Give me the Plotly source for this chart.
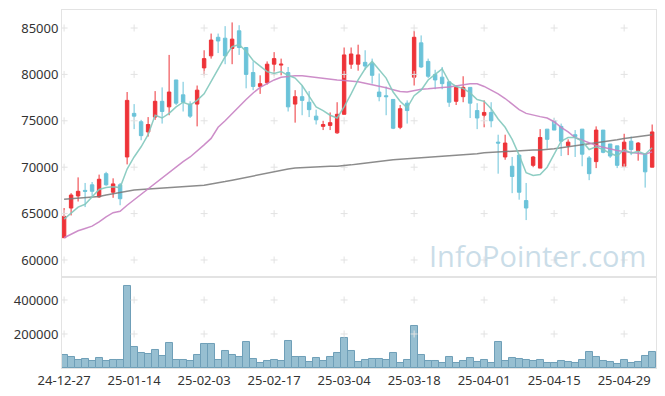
import plotly.graph_objects as go

dates = ["24-12-27", "24-12-30", "25-01-02", "25-01-03", "25-01-06", "25-01-07", "25-01-08", "25-01-09", "25-01-10", "25-01-13",
         "25-01-14", "25-01-15", "25-01-16", "25-01-17", "25-01-20", "25-01-21", "25-01-22", "25-01-23", "25-01-24", "25-01-31",
         "25-02-03", "25-02-04", "25-02-05", "25-02-06", "25-02-07", "25-02-10", "25-02-11", "25-02-12", "25-02-13", "25-02-14",
         "25-02-17", "25-02-18", "25-02-19", "25-02-20", "25-02-21", "25-02-24", "25-02-25", "25-02-26", "25-02-27", "25-02-28",
         "25-03-04", "25-03-05", "25-03-06", "25-03-07", "25-03-10", "25-03-11", "25-03-12", "25-03-13", "25-03-14", "25-03-17",
         "25-03-18", "25-03-19", "25-03-20", "25-03-21", "25-03-24", "25-03-25", "25-03-26", "25-03-27", "25-03-28", "25-03-31",
         "25-04-01", "25-04-02", "25-04-03", "25-04-04", "25-04-07", "25-04-08", "25-04-09", "25-04-10", "25-04-11", "25-04-14",
         "25-04-15", "25-04-16", "25-04-17", "25-04-18", "25-04-21", "25-04-22", "25-04-23", "25-04-24", "25-04-25", "25-04-28",
         "25-04-29", "25-04-30", "25-05-02", "25-05-07", "25-05-08"]

opens = [62400, 65600, 66900, 67500, 68100, 66800, 69300, 67300, 68100, 71100,
         75800, 74900, 73800, 75400, 77100, 76500, 79400, 77800, 76800, 76800,
         80700, 82000, 84000, 83900, 82800, 84700, 82900, 80200, 78700, 79100,
         81100, 81000, 80200, 76800, 77600, 77000, 75500, 74400, 74500, 73700,
         75700, 81100, 81100, 81300, 81200, 78100, 77700, 77300, 74300, 76900,
         79700, 83400, 81400, 80000, 79700, 79200, 77100, 77600, 78600, 76100,
         75600, 75900, 72700, 71100, 70100, 71300, 66400, 70200, 69900, 74100,
         75000, 74400, 72300, 73500, 74100, 71000, 70600, 74000, 72500, 72300,
         70100, 72800, 71800, 71400, 70000]

highs = [65600, 67200, 68900, 68300, 68400, 69200, 69500, 68800, 68300, 78100,
         76800, 75100, 75400, 78200, 78600, 82100, 79400, 79200, 77100, 78800,
         82600, 84400, 84400, 85200, 85600, 85300, 82900, 81400, 79900, 81400,
         82400, 81700, 80800, 78300, 78800, 78200, 76200, 75000, 75900, 77000,
         82900, 82900, 83200, 82600, 81700, 80100, 78700, 77300, 76700, 77200,
         84700, 84200, 81700, 80500, 80800, 79200, 78800, 79800, 78600, 76900,
         77200, 77000, 73500, 73500, 71100, 71300, 68300, 71200, 74100, 74100,
         75300, 74700, 73000, 74000, 74100, 71200, 74400, 74000, 72500, 72300,
         73600, 73300, 72700, 71400, 74600]

lows = [62400, 64800, 66300, 65700, 66900, 66700, 68000, 66700, 65900, 70300,
        74100, 72900, 73300, 75100, 74700, 75600, 76700, 76000, 75300, 74400,
        79900, 81700, 82300, 81100, 81100, 82100, 78500, 78300, 77900, 78900,
        79900, 79900, 76000, 74800, 75600, 75400, 74600, 74000, 74000, 73600,
        75700, 80600, 80400, 80500, 79000, 77100, 75600, 74100, 74100, 74700,
        78800, 80700, 79600, 78400, 78400, 76500, 76700, 77000, 75300, 74100,
        74300, 74300, 69300, 70800, 67200, 66500, 64300, 70000, 69900, 72000,
        74000, 71200, 71300, 71100, 70100, 68600, 69900, 71500, 71000, 69900,
        70100, 71300, 70700, 67800, 70000]

closes = [64700, 67000, 67400, 67400, 67400, 68700, 68100, 68200, 66600, 77200,
          75500, 73400, 74600, 77100, 76000, 78100, 76900, 77000, 75500, 78300,
          81700, 83700, 83600, 82000, 83800, 82900, 80000, 78700, 79000, 81100,
          81700, 81100, 76500, 77600, 77200, 76200, 75100, 74600, 74800, 75700,
          82100, 82200, 82100, 80900, 79900, 77600, 77600, 74200, 76300, 76100,
          84000, 80800, 79800, 79400, 79000, 77000, 78600, 78600, 76900, 75300,
          75900, 75000, 72600, 72600, 69000, 67300, 65600, 71100, 73200, 73000,
          74000, 72800, 72700, 73300, 71400, 69300, 74000, 71600, 71200, 70200,
          72700, 71900, 72600, 69500, 73800]

volumes = [74700, 66500, 45100, 54900, 39200, 56900, 39200, 45100, 45100, 480500,
           121600, 86300, 80400, 104000, 68600, 145100, 45100, 45100, 39200, 74700,
           139200, 139200, 45100, 98000, 74700, 62700, 151000, 51000, 27400, 39200,
           45100, 39200, 156900, 62700, 62700, 33300, 56900, 39200, 62700, 86300,
           174500, 98000, 33300, 45100, 51000, 51000, 45100, 86300, 27400, 45100,
           245100, 74700, 39200, 39200, 27400, 62700, 27400, 39200, 56900, 33300,
           45100, 27400, 151000, 39200, 56900, 51000, 45100, 39200, 45100, 27400,
           27400, 39200, 33300, 27400, 45100, 92200, 62700, 39200, 33300, 21600,
           45100, 27400, 33300, 68600, 92200]

ma5 = [64400, 65000, 65700, 66000, 66800, 67600, 67800, 67900, 67800, 69800,
       71100, 72200, 73500, 75600, 75300, 75800, 76500, 77000, 76700, 77200,
       77900, 79200, 80600, 81900, 83000, 83200, 82500, 81500, 80900, 80300,
       80100, 80300, 79900, 79600, 78800, 77700, 76500, 76100, 75600, 75300,
       76500, 77900, 79400, 80600, 81400, 80500, 79600, 78100, 77100, 76400,
       77700, 78300, 79400, 80000, 80600, 79200, 78700, 78500, 78000, 77300,
       77100, 76300, 75200, 74300, 73000, 71300, 69400, 69100, 69200, 70000,
       71400, 72800, 73200, 73200, 72800, 71900, 72200, 71900, 71500, 71200,
       71900, 71500, 71700, 71400, 72100]

ma20 = [62400, 62800, 63150, 63400, 63650, 64100, 64650, 65100, 65250, 65900,
        66500, 67000, 67650, 68300, 68900, 69500, 70000, 70600, 71100, 71700,
        72400, 73100, 74300, 75000, 75800, 76600, 77300, 78000, 78600, 79000,
        79400, 79700, 79800, 79850, 79850, 79750, 79650, 79550, 79450, 79400,
        79350, 79300, 79200, 79050, 78900, 78700, 78550, 78350, 78150, 78100,
        78250, 78400, 78450, 78550, 78600, 78650, 78750, 78900, 79000, 79000,
        78700, 78300, 77900, 77400, 76800, 76200, 75800, 75600, 75450, 75300,
        74900, 74300, 73800, 73200, 72900, 72600, 72350, 72150, 71950, 71800,
        71700, 71600, 71450, 71400, 71650]

ma120 = [66550, 66600, 66650, 66700, 66750, 66850, 67000, 67150, 67300, 67450,
         67550, 67600, 67650, 67700, 67750, 67800, 67800, 67850, 67900, 67950,
         68050, 68200, 68300, 68450, 68600, 68750, 68950, 69100, 69250, 69400,
         69550, 69700, 69800, 69900, 69950, 70000, 70050, 70050, 70100, 70100,
         70150, 70250, 70350, 70450, 70550, 70650, 70750, 70800, 70850, 70900,
         70950, 71000, 71050, 71100, 71200, 71250, 71300, 71350, 71400, 71450,
         71550, 71600, 71650, 71700, 71750, 71800, 71800, 71850, 71850, 71900,
         72000, 72100, 72200, 72350, 72450, 72550, 72650, 72750, 72850, 72950,
         73100, 73200, 73300, 73400, 73500]

price_ticks = [60000, 65000, 70000, 75000, 80000, 85000]
volume_ticks = [200000, 400000]
date_ticks = dates[0::10]

RED = "#ee3338"
BLUE = "#6bc3d9"
GRID = "#e2e2e2"
BORDER = "#e3e3e3"

fig = go.Figure()

fig.add_trace(go.Candlestick(x=dates, open=opens, high=highs, low=lows, close=closes,
                             xaxis="x", yaxis="y", whiskerwidth=0,
                             increasing=dict(line=dict(color=RED, width=1), fillcolor=RED),
                             decreasing=dict(line=dict(color=BLUE, width=1), fillcolor=BLUE),
                             showlegend=False, hoverinfo="skip"))

fig.add_trace(go.Bar(x=dates, y=volumes, xaxis="x2", yaxis="y2",
                     marker=dict(color="rgba(140,184,204,0.9)", line=dict(color="#6f9fb8", width=1)),
                     hoverinfo="skip", showlegend=False))

# grid "+" marks at tick intersections
gx, gy = [], []
for d in date_ticks:
    for p in price_ticks:
        gx.append(d); gy.append(p)
fig.add_trace(go.Scatter(x=gx, y=gy, mode="markers", xaxis="x", yaxis="y",
                         marker=dict(symbol="cross-thin", size=5, line=dict(color=GRID, width=1)),
                         hoverinfo="skip", showlegend=False))
vx, vy = [], []
for d in date_ticks:
    for p in volume_ticks:
        vx.append(d); vy.append(p)
fig.add_trace(go.Scatter(x=vx, y=vy, mode="markers", xaxis="x2", yaxis="y2",
                         marker=dict(symbol="cross-thin", size=5, line=dict(color=GRID, width=1)),
                         hoverinfo="skip", showlegend=False))

for series, col in [(ma120, "rgba(120,120,120,0.85)"), (ma20, "rgba(200,130,195,0.9)"), (ma5, "rgba(130,200,188,0.9)")]:
    fig.add_trace(go.Scatter(x=dates, y=series, mode="lines", xaxis="x", yaxis="y",
                             line=dict(color=col, width=1.5), hoverinfo="skip", showlegend=False))

axis_font = dict(family="Noto Sans, DejaVu Sans, sans-serif", size=13, color="#333333")
xrange = [-0.3, 84.55]

# the page body adds an 8px offset, so the figure is sized to fill the remaining window
fig.update_layout(
    width=657, height=388,
    margin=dict(l=54, r=9, t=2, b=28, autoexpand=False),
    paper_bgcolor="white", plot_bgcolor="white",
    bargap=0, boxgap=0.3,
    showlegend=False,
    xaxis=dict(domain=[0, 1], anchor="y", type="category", range=xrange,
               categoryorder="array", categoryarray=dates,
               showticklabels=False, showgrid=False, zeroline=False,
               showline=True, mirror=True, linecolor=BORDER, linewidth=1,
               rangeslider=dict(visible=False), ticks="", automargin=False),
    yaxis=dict(domain=[0.2556, 1], anchor="x", range=[58220, 86940],
               tickvals=price_ticks, tickformat="d", showgrid=False, zeroline=False,
               showline=True, mirror=True, linecolor=BORDER, linewidth=1,
               tickfont=axis_font, ticks="", automargin=False),
    xaxis2=dict(domain=[0, 1], anchor="y2", type="category", range=xrange,
                categoryorder="array", categoryarray=dates,
                tickvals=date_ticks, ticktext=date_ticks, showgrid=False, zeroline=False,
                showline=True, mirror=True, linecolor=BORDER, linewidth=1,
                tickfont=axis_font, ticks="", tickangle=0, automargin=False),
    yaxis2=dict(domain=[0, 0.2514], anchor="x2", range=[0, 529400],
                tickvals=volume_ticks, tickformat="d", showgrid=False, zeroline=False,
                showline=True, mirror=True, linecolor=BORDER, linewidth=1,
                tickfont=axis_font, ticks="", automargin=False),
    annotations=[dict(text="InfoPointer.com", xref="paper", yref="paper",
                      x=0.987, y=0.313, xanchor="right", yanchor="middle",
                      showarrow=False,
                      font=dict(family="Open Sans, Noto Sans, sans-serif", size=29,
                                color="rgba(185,210,225,0.75)"))],
)

fig.write_html("out.html")
